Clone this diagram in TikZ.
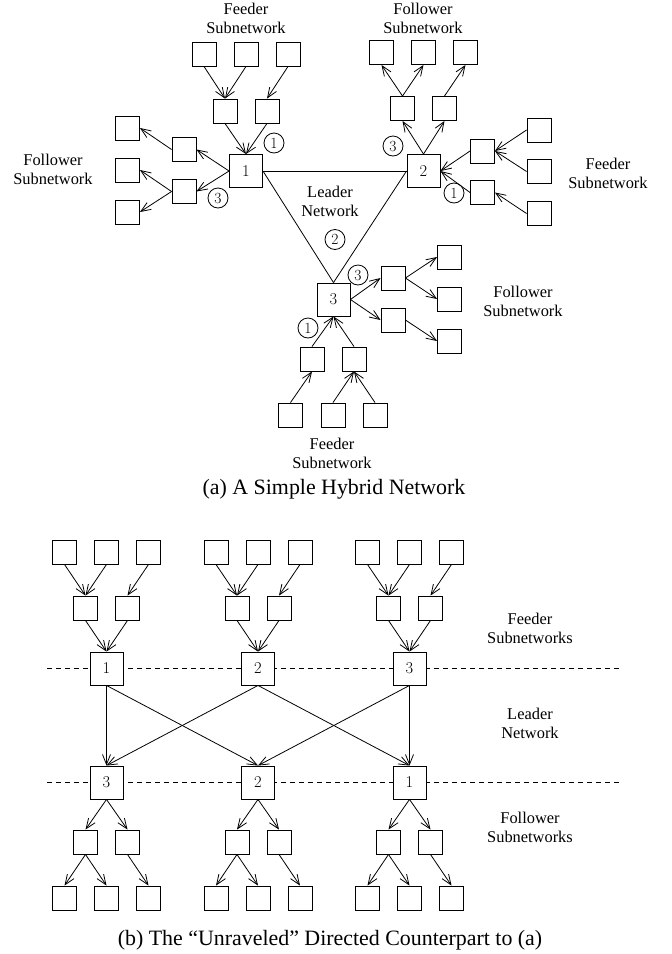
\documentclass[tikz,border=0pt]{standalone}
\usepackage{fontspec}
\newfontfamily\timesfont{Liberation Serif}
\usetikzlibrary{arrows.meta}
\newcommand{\lblfont}{\timesfont\fontsize{16.4}{19}\selectfont}
\newcommand{\capfont}{\timesfont\fontsize{21.9}{24}\selectfont}
\newcommand{\numfont}{\fontsize{16.5}{18}\selectfont}
\newcommand{\cnumfont}{\fontsize{15.5}{16}\selectfont}
\tikzset{
  sbox/.style={draw, fill=white, minimum size=24pt, inner sep=0pt, line width=0.9pt},
  lbox/.style={draw, fill=white, minimum size=33pt, inner sep=0pt, line width=0.9pt, font=\numfont},
  circnum/.style={circle, draw, minimum size=20pt, inner sep=0pt, line width=0.8pt, font=\cnumfont},
  lbl/.style={align=center, font=\lblfont},
  capt/.style={font=\capfont},
  arr/.style={-{Straight Barb[length=10pt,width=8pt]}, line width=0.8pt},
  edge/.style={line width=0.8pt},
  sepline/.style={line width=0.8pt, dash pattern=on 5pt off 4pt},
}
\begin{document}
\begin{tikzpicture}[x=1pt,y=-1pt]
\useasboundingbox (0,0) rectangle (672,954);

% ---------------- (a) hybrid network ----------------
\node[lbox] (n1) at (246,171) {1};
\node[lbox] (n2) at (423.5,171) {2};
\node[lbox] (n3) at (333.5,299.5) {3};

% leader triangle
\draw[edge] (n1.east) -- (n2.west);
\draw[edge] (n1.east) -- (n3.north);
\draw[edge] (n2.west) -- (n3.north);

% feeder subnetwork of 1 (above)
\node[sbox] (f1a) at (204,54) {};
\node[sbox] (f1b) at (246,54) {};
\node[sbox] (f1c) at (288,54) {};
\node[sbox] (f1d) at (225,111) {};
\node[sbox] (f1e) at (267,111) {};
\draw[arr] (f1a.south) -- (f1d.north);
\draw[arr] (f1b.south) -- (f1d.north);
\draw[arr] (f1c.south) -- (f1e.north);
\draw[arr] (f1d.south) -- (n1.north);
\draw[arr] (f1e.south) -- (n1.north);

% follower subnetwork of 1 (left)
\node[sbox] (l1d) at (184,149.5) {};
\node[sbox] (l1e) at (184,191.5) {};
\node[sbox] (l1a) at (127.5,128) {};
\node[sbox] (l1b) at (127.5,170) {};
\node[sbox] (l1c) at (127.5,212) {};
\draw[arr] (n1.west) -- (l1d.east);
\draw[arr] (n1.west) -- (l1e.east);
\draw[arr] (l1d.west) -- (l1a.east);
\draw[arr] (l1e.west) -- (l1b.east);
\draw[arr] (l1e.west) -- (l1c.east);

% follower subnetwork of 2 (above)
\node[sbox] (u2d) at (402.5,108.5) {};
\node[sbox] (u2e) at (444.5,108.5) {};
\node[sbox] (u2a) at (381.5,52.5) {};
\node[sbox] (u2b) at (423.5,52.5) {};
\node[sbox] (u2c) at (465.5,52.5) {};
\draw[arr] (n2.north) -- (u2d.south);
\draw[arr] (n2.north) -- (u2e.south);
\draw[arr] (u2d.north) -- (u2a.south);
\draw[arr] (u2d.north) -- (u2b.south);
\draw[arr] (u2e.north) -- (u2c.south);

% feeder subnetwork of 2 (right)
\node[sbox] (r2d) at (482.5,151) {};
\node[sbox] (r2e) at (482.5,192.5) {};
\node[sbox] (r2a) at (539,130) {};
\node[sbox] (r2b) at (539,171.5) {};
\node[sbox] (r2c) at (539,213.5) {};
\draw[arr] (r2a.west) -- (r2d.east);
\draw[arr] (r2b.west) -- (r2d.east);
\draw[arr] (r2c.west) -- (r2e.east);
\draw[arr] (r2d.west) -- (n2.east);
\draw[arr] (r2e.west) -- (n2.east);

% follower subnetwork of 3 (right)
\node[sbox] (r3d) at (393,278) {};
\node[sbox] (r3e) at (393,320) {};
\node[sbox] (r3a) at (449.5,257) {};
\node[sbox] (r3b) at (449.5,299) {};
\node[sbox] (r3c) at (449.5,341) {};
\draw[arr] (n3.east) -- (r3d.west);
\draw[arr] (n3.east) -- (r3e.west);
\draw[arr] (r3d.east) -- (r3a.west);
\draw[arr] (r3d.east) -- (r3b.west);
\draw[arr] (r3e.east) -- (r3c.west);

% feeder subnetwork of 3 (below)
\node[sbox] (b3d) at (312,359) {};
\node[sbox] (b3e) at (354,359) {};
\node[sbox] (b3a) at (290.5,415) {};
\node[sbox] (b3b) at (333,415) {};
\node[sbox] (b3c) at (375,415) {};
\draw[arr] (b3a.north) -- (b3d.south);
\draw[arr] (b3b.north) -- (b3e.south);
\draw[arr] (b3c.north) -- (b3e.south);
\draw[arr] (b3d.north) -- (n3.south);
\draw[arr] (b3e.north) -- (n3.south);

% circled phase numbers
\node[circnum] (c1a) at (274,143) {1};
\node[circnum] (c1b) at (218,198) {3};
\node[circnum] (c2a) at (393,146) {3};
\node[circnum] (c2b) at (454,193) {1};
\node[circnum] (c0)  at (335,239.5) {2};
\node[circnum] (c3a) at (358,275) {3};
\node[circnum] (c3b) at (308,328) {1};

% labels
\node[lbl] (t1) at (246,18) {Feeder\\Subnetwork};
\node[lbl] (t2) at (423,18) {Follower\\Subnetwork};
\node[lbl] (t3) at (53,169.5) {Follower\\Subnetwork};
\node[lbl] (t4) at (608,173) {Feeder\\Subnetwork};
\node[lbl] (t5) at (330,201.5) {Leader\\Network};
\node[lbl] (t6) at (523,301.5) {Follower\\Subnetwork};
\node[lbl] (t7) at (332,453) {Feeder\\Subnetwork};
\node[capt] (capa) at (334,489) {(a) A Simple Hybrid Network};

% ---------------- (b) unraveled counterpart ----------------
\coordinate (s1w) at (47,668.5);
\coordinate (s1e) at (620,668.5);
\coordinate (s2w) at (47,782.5);
\coordinate (s2e) at (620,782.5);
\draw[sepline] (s1w) -- (s1e);
\draw[sepline] (s2w) -- (s2e);

\foreach \i/\c/\t/\b in {1/106.5/1/3, 2/258/2/2, 3/409.5/3/1}{
  % feeder tree
  \node[sbox] (fa\i) at ({\c-42},552) {};
  \node[sbox] (fb\i) at (\c,552) {};
  \node[sbox] (fc\i) at ({\c+42},552) {};
  \node[sbox] (fd\i) at ({\c-21},608) {};
  \node[sbox] (fe\i) at ({\c+21},608) {};
  \node[lbox] (A\i) at (\c,668.5) {\t};
  \draw[arr] (fa\i.south) -- (fd\i.north);
  \draw[arr] (fb\i.south) -- (fd\i.north);
  \draw[arr] (fc\i.south) -- (fe\i.north);
  \draw[arr] (fd\i.south) -- (A\i.north);
  \draw[arr] (fe\i.south) -- (A\i.north);
  % follower tree
  \node[lbox] (B\i) at (\c,782.5) {\b};
  \node[sbox] (gd\i) at ({\c-21},842) {};
  \node[sbox] (ge\i) at ({\c+21},842) {};
  \node[sbox] (ga\i) at ({\c-42},898) {};
  \node[sbox] (gb\i) at (\c,898) {};
  \node[sbox] (gc\i) at ({\c+42},898) {};
  \draw[arr] (B\i.south) -- (gd\i.north);
  \draw[arr] (B\i.south) -- (ge\i.north);
  \draw[arr] (gd\i.south) -- (ga\i.north);
  \draw[arr] (gd\i.south) -- (gb\i.north);
  \draw[arr] (ge\i.south) -- (gc\i.north);
}

% leader network links
\draw[arr] (A1.south) -- (B1.north);
\draw[arr] (A1.south) -- (B2.north);
\draw[arr] (A2.south) -- (B1.north);
\draw[arr] (A2.south) -- (B3.north);
\draw[arr] (A3.south) -- (B2.north);
\draw[arr] (A3.south) -- (B3.north);

\node[lbl] (u1) at (530,628.5) {Feeder\\Subnetworks};
\node[lbl] (u2) at (530,723.5) {Leader\\Network};
\node[lbl] (u3) at (530,827.5) {Follower\\Subnetworks};
\node[capt] (capb) at (330,940) {(b) The “Unraveled” Directed Counterpart to (a)};
\end{tikzpicture}
\end{document}
